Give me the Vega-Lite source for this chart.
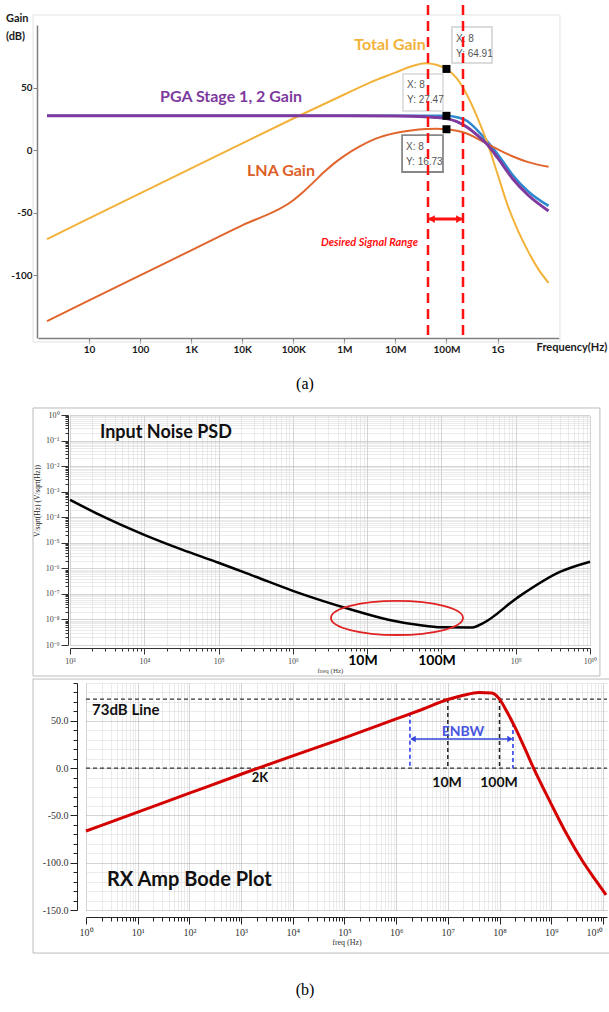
{
"$schema": "https://vega.github.io/schema/vega-lite/v6.json",
"width": 609, "height": 1012, "padding": 0,
"autosize": {"type": "none"},
"background": "white",
"config": {"view": {"stroke": null}, "text": {"font": "Lato"}},
"datasets": {
"total": [{"f":1.5,"g":-71},{"f":10,"g":-54.5},{"f":100,"g":-34.5},{"f":1000,"g":-14.5},{"f":1e4,"g":5.5},{"f":1e5,"g":25.3},{"f":1e6,"g":44.5},{"f":3.16e6,"g":54},{"f":1e7,"g":62},{"f":2e7,"g":66.8},{"f":3.8e7,"g":69.5},{"f":6.3e7,"g":68.3},{"f":1e8,"g":64.91},{"f":1.58e8,"g":57.5},{"f":2.5e8,"g":44.5},{"f":4e8,"g":26.5},{"f":6.3e8,"g":6},{"f":1e9,"g":-19},{"f":1.58e9,"g":-44},{"f":2.5e9,"g":-64},{"f":4e9,"g":-81},{"f":6.3e9,"g":-95},{"f":1e10,"g":-106}],
"pga": [{"f":1.5,"g":27.5},{"f":1e6,"g":27.5},{"f":1e7,"g":27.3},{"f":3e7,"g":26.9},{"f":6e7,"g":26.2},{"f":1e8,"g":25.2},{"f":1.6e8,"g":22.8},{"f":2.5e8,"g":18.5},{"f":4e8,"g":12},{"f":6.3e8,"g":4.5},{"f":1e9,"g":-6},{"f":2e9,"g":-23},{"f":4e9,"g":-36},{"f":1e10,"g":-48.5}],
"pga2": [{"f":1.5,"g":27.5},{"f":1e7,"g":27.5},{"f":4e7,"g":27.5},{"f":1e8,"g":27.47},{"f":1.6e8,"g":26.3},{"f":2.5e8,"g":23.5},{"f":4e8,"g":16},{"f":6.3e8,"g":7},{"f":1e9,"g":-3},{"f":2e9,"g":-20},{"f":4e9,"g":-33},{"f":1e10,"g":-44.5}],
"lna": [{"f":1.5,"g":-136.5},{"f":10,"g":-120},{"f":100,"g":-100},{"f":1000,"g":-80},{"f":1e4,"g":-60},{"f":1e5,"g":-40},{"f":1.6e5,"g":-33},{"f":2.5e5,"g":-25.5},{"f":4e5,"g":-17.5},{"f":6.3e5,"g":-10.5},{"f":1e6,"g":-4.5},{"f":2e6,"g":3},{"f":4e6,"g":9},{"f":1e7,"g":13.8},{"f":2e7,"g":15.8},{"f":4e7,"g":16.9},{"f":6.3e7,"g":17.1},{"f":1e8,"g":16.73},{"f":1.6e8,"g":15.6},{"f":2.5e8,"g":13.3},{"f":4e8,"g":9.3},{"f":6.3e8,"g":5},{"f":1e9,"g":0.8},{"f":2e9,"g":-5},{"f":4e9,"g":-9.5},{"f":1e10,"g":-13.3}],
"marks": [{"f":1e8,"g":64.91},{"f":1e8,"g":27.47},{"f":1e8,"g":16.73}],
"tiptext": [{"f":1.54e8,"g":88.8,"t":"X: 8"},{"f":1.54e8,"g":76.8,"t":"Y: 64.91"},{"f":1.69e7,"g":52.1,"t":"X: 8"},{"f":1.69e7,"g":40.1,"t":"Y: 27.47"},{"f":1.61e7,"g":2.6,"t":"X: 8"},{"f":1.61e7,"g":-9.4,"t":"Y: 16.73"}],
"psd": [{"f":1e3,"v":4.79e-4},{"f":2.51e3,"v":1.23e-4},{"f":1e4,"v":2.04e-5},{"f":3.16e4,"v":5.5e-6},{"f":1e5,"v":1.66e-6},{"f":3.16e5,"v":4.68e-7},{"f":1e6,"v":1.32e-7},{"f":5.9e6,"v":2.51e-8},{"f":2e7,"v":9.55e-9},{"f":5e7,"v":6.03e-9},{"f":1e8,"v":4.9e-9},{"f":2.5e8,"v":4.79e-9},{"f":3.6e8,"v":7.08e-9},{"f":1.05e9,"v":7.08e-8},{"f":4e9,"v":7.41e-7},{"f":1e10,"v":1.82e-6}],
"bode": [{"f":1,"g":-66.5},{"f":10,"g":-46.5},{"f":100,"g":-26.5},{"f":1e3,"g":-6.5},{"f":1e4,"g":13},{"f":1e5,"g":32},{"f":1e6,"g":52},{"f":3.16e6,"g":62},{"f":1e7,"g":72.5},{"f":2e7,"g":77},{"f":4e7,"g":80},{"f":7.1e7,"g":79.5},{"f":1e8,"g":73},{"f":1.41e8,"g":59},{"f":2e8,"g":43},{"f":3.16e8,"g":19.5},{"f":4.47e8,"g":1},{"f":1e9,"g":-38},{"f":2e9,"g":-70},{"f":4e9,"g":-98},{"f":7.1e9,"g":-118},{"f":1.15e10,"g":-134}]
},
"layer": [
{"data": {"name": "pga2"}, "mark": {"type": "line", "color": "#2E88CF", "strokeWidth": 2.5, "interpolate": "monotone"},
 "encoding": {
  "x": {"field": "f", "type": "quantitative", "scale": {"type":"log","domain":[1,1.6e10],"range":[38,559],"nice":false},
   "axis": {"orient":"bottom","offset":-674,"values":[10,100,1000,1e4,1e5,1e6,1e7,1e8,1e9],
    "labelExpr":"['1','10','100','1K','10K','100K','1M','10M','100M','1G','10G'][round(log(datum.value)/LN10)]",
    "title":null,"grid":false,"domainColor":"#808080","domainWidth":1.5,"tickColor":"#808080","tickWidth":1.2,"tickSize":5,
    "labelFont":"Lato","labelFontWeight":"bold","labelFontSize":10,"labelColor":"#1a1a1a","labelPadding":1,"labelOverlap":false,"labelFlush":false,"labelBound":false}},
  "y": {"field": "g", "type": "quantitative", "scale": {"type":"linear","domain":[-150,100],"range":[338,25],"nice":false,"zero":false},
   "axis": {"orient":"left","offset":-37,"values":[-100,-50,0,50],
    "labelExpr":"datum.value < 0 ? '-' + format(-datum.value, 'd') : format(datum.value, 'd')",
    "title":null,"grid":false,"domainColor":"#808080","domainWidth":1.5,"tickColor":"#808080","tickSize":4,
    "labelFont":"Lato","labelFontWeight":"bold","labelFontSize":10,"labelColor":"#1a1a1a","labelPadding":1,"labelOverlap":false,"labelFlush":false}}
 }},
{"data": {"values": [{}]}, "mark": {"type": "rect", "fill": "transparent", "stroke": "#e2e2e2", "strokeWidth": 1},
 "encoding": {"x": {"datum": 0.8, "type": "quantitative", "scale": {"type":"log","domain":[1,1.6e10],"range":[38,559],"nice":false}, "axis": null}, "x2": {"datum": 1.67e10}, "y": {"datum": 108, "type": "quantitative", "scale": {"type":"linear","domain":[-150,100],"range":[338,25],"nice":false,"zero":false}, "axis": null}, "y2": {"datum": -153.2}}},
{"data": {"name": "total"}, "mark": {"type": "line", "color": "#F2B23A", "strokeWidth": 2, "interpolate": "monotone"},
 "encoding": {"x": {"field": "f", "type": "quantitative", "scale": {"type":"log","domain":[1,1.6e10],"range":[38,559],"nice":false}, "axis": null}, "y": {"field": "g", "type": "quantitative", "scale": {"type":"linear","domain":[-150,100],"range":[338,25],"nice":false,"zero":false}, "axis": null}}},
{"data": {"name": "lna"}, "mark": {"type": "line", "color": "#E0662E", "strokeWidth": 2, "interpolate": "monotone"},
 "encoding": {"x": {"field": "f", "type": "quantitative", "scale": {"type":"log","domain":[1,1.6e10],"range":[38,559],"nice":false}, "axis": null}, "y": {"field": "g", "type": "quantitative", "scale": {"type":"linear","domain":[-150,100],"range":[338,25],"nice":false,"zero":false}, "axis": null}}},
{"data": {"name": "pga"}, "mark": {"type": "line", "color": "#7E3A9E", "strokeWidth": 3, "interpolate": "monotone"},
 "encoding": {"x": {"field": "f", "type": "quantitative", "scale": {"type":"log","domain":[1,1.6e10],"range":[38,559],"nice":false}, "axis": null}, "y": {"field": "g", "type": "quantitative", "scale": {"type":"linear","domain":[-150,100],"range":[338,25],"nice":false,"zero":false}, "axis": null}}},
{"data": {"name": "marks"}, "mark": {"type": "square", "size": 64, "color": "black", "opacity": 1},
 "encoding": {"x": {"field": "f", "type": "quantitative", "scale": {"type":"log","domain":[1,1.6e10],"range":[38,559],"nice":false}, "axis": null}, "y": {"field": "g", "type": "quantitative", "scale": {"type":"linear","domain":[-150,100],"range":[338,25],"nice":false,"zero":false}, "axis": null}}},
{"data": {"values": [{}]}, "mark": {"type": "rect", "fill": "white", "stroke": "#cfcfcf", "strokeWidth": 1.5},
 "encoding": {"x": {"datum": 1.28e8, "type": "quantitative", "scale": {"type":"log","domain":[1,1.6e10],"range":[38,559],"nice":false}, "axis": null}, "x2": {"datum": 7.79e8}, "y": {"datum": 98.4, "type": "quantitative", "scale": {"type":"linear","domain":[-150,100],"range":[338,25],"nice":false,"zero":false}, "axis": null}, "y2": {"datum": 69.6}}},
{"data": {"values": [{}]}, "mark": {"type": "rect", "fill": "white", "stroke": "#d8d8d8", "strokeWidth": 1.5},
 "encoding": {"x": {"datum": 1.41e7, "type": "quantitative", "scale": {"type":"log","domain":[1,1.6e10],"range":[38,559],"nice":false}, "axis": null}, "x2": {"datum": 8.55e7}, "y": {"datum": 60.9, "type": "quantitative", "scale": {"type":"linear","domain":[-150,100],"range":[338,25],"nice":false,"zero":false}, "axis": null}, "y2": {"datum": 31.3}}},
{"data": {"values": [{}]}, "mark": {"type": "rect", "fill": "white", "stroke": "#888888", "strokeWidth": 1.8},
 "encoding": {"x": {"datum": 1.35e7, "type": "quantitative", "scale": {"type":"log","domain":[1,1.6e10],"range":[38,559],"nice":false}, "axis": null}, "x2": {"datum": 8.55e7}, "y": {"datum": 12.1, "type": "quantitative", "scale": {"type":"linear","domain":[-150,100],"range":[338,25],"nice":false,"zero":false}, "axis": null}, "y2": {"datum": -17.4}}},
{"data": {"name": "tiptext"}, "mark": {"type": "text", "align": "left", "baseline": "middle", "font": "Liberation Sans", "fontSize": 10, "color": "#555555"},
 "encoding": {"x": {"field": "f", "type": "quantitative", "scale": {"type":"log","domain":[1,1.6e10],"range":[38,559],"nice":false}, "axis": null}, "y": {"field": "g", "type": "quantitative", "scale": {"type":"linear","domain":[-150,100],"range":[338,25],"nice":false,"zero":false}, "axis": null}, "text": {"field": "t"}}},
{"data": {"values": [{}]}, "mark": {"type": "rule", "color": "#FF1111", "strokeWidth": 2.5, "strokeDash": [10, 6]},
 "encoding": {"x": {"datum": 4.35e7, "type": "quantitative", "scale": {"type":"log","domain":[1,1.6e10],"range":[38,559],"nice":false}, "axis": null}, "y": {"datum": 116, "type": "quantitative", "scale": {"type":"linear","domain":[-150,100],"range":[338,25],"nice":false,"zero":false}, "axis": null}, "y2": {"datum": -150}}},
{"data": {"values": [{}]}, "mark": {"type": "rule", "color": "#FF1111", "strokeWidth": 2.5, "strokeDash": [10, 6]},
 "encoding": {"x": {"datum": 2.11e8, "type": "quantitative", "scale": {"type":"log","domain":[1,1.6e10],"range":[38,559],"nice":false}, "axis": null}, "y": {"datum": 116, "type": "quantitative", "scale": {"type":"linear","domain":[-150,100],"range":[338,25],"nice":false,"zero":false}, "axis": null}, "y2": {"datum": -150}}},
{"data": {"values": [{}]}, "mark": {"type": "rule", "color": "#FF1111", "strokeWidth": 3},
 "encoding": {"x": {"datum": 4.6e7, "type": "quantitative", "scale": {"type":"log","domain":[1,1.6e10],"range":[38,559],"nice":false}, "axis": null}, "x2": {"datum": 2.0e8}, "y": {"datum": -55, "type": "quantitative", "scale": {"type":"linear","domain":[-150,100],"range":[338,25],"nice":false,"zero":false}, "axis": null}}},
{"data": {"values": [{}]}, "mark": {"type": "point", "shape": "triangle-left", "filled": true, "size": 60, "color": "#FF1111", "opacity": 1},
 "encoding": {"x": {"datum": 5.09e7, "type": "quantitative", "scale": {"type":"log","domain":[1,1.6e10],"range":[38,559],"nice":false}, "axis": null}, "y": {"datum": -55, "type": "quantitative", "scale": {"type":"linear","domain":[-150,100],"range":[338,25],"nice":false,"zero":false}, "axis": null}}},
{"data": {"values": [{}]}, "mark": {"type": "point", "shape": "triangle-right", "filled": true, "size": 60, "color": "#FF1111", "opacity": 1},
 "encoding": {"x": {"datum": 1.8e8, "type": "quantitative", "scale": {"type":"log","domain":[1,1.6e10],"range":[38,559],"nice":false}, "axis": null}, "y": {"datum": -55, "type": "quantitative", "scale": {"type":"linear","domain":[-150,100],"range":[338,25],"nice":false,"zero":false}, "axis": null}}},
{"data": {"values": [{}]}, "mark": {"type": "text", "text": "Desired Signal Range", "align": "right", "baseline": "middle", "fontSize": 11, "fontWeight": "bold", "fontStyle": "italic", "color": "#FF1111"},
 "encoding": {"x": {"datum": 2.77e7, "type": "quantitative", "scale": {"type":"log","domain":[1,1.6e10],"range":[38,559],"nice":false}, "axis": null}, "y": {"datum": -74.1, "type": "quantitative", "scale": {"type":"linear","domain":[-150,100],"range":[338,25],"nice":false,"zero":false}, "axis": null}}},
{"data": {"values": [{}]}, "mark": {"type": "text", "text": "Total Gain", "align": "center", "baseline": "middle", "fontSize": 16, "fontWeight": "bold", "color": "#F2B23A"},
 "encoding": {"x": {"datum": 7.83e6, "type": "quantitative", "scale": {"type":"log","domain":[1,1.6e10],"range":[38,559],"nice":false}, "axis": null}, "y": {"datum": 84, "type": "quantitative", "scale": {"type":"linear","domain":[-150,100],"range":[338,25],"nice":false,"zero":false}, "axis": null}}},
{"data": {"values": [{}]}, "mark": {"type": "text", "text": "PGA Stage 1, 2 Gain", "align": "center", "baseline": "middle", "fontSize": 16, "fontWeight": "bold", "color": "#7E3A9E"},
 "encoding": {"x": {"datum": 6030, "type": "quantitative", "scale": {"type":"log","domain":[1,1.6e10],"range":[38,559],"nice":false}, "axis": null}, "y": {"datum": 42.5, "type": "quantitative", "scale": {"type":"linear","domain":[-150,100],"range":[338,25],"nice":false,"zero":false}, "axis": null}}},
{"data": {"values": [{}]}, "mark": {"type": "text", "text": "LNA Gain", "align": "center", "baseline": "middle", "fontSize": 16, "fontWeight": "bold", "color": "#DD5F28"},
 "encoding": {"x": {"datum": 57400, "type": "quantitative", "scale": {"type":"log","domain":[1,1.6e10],"range":[38,559],"nice":false}, "axis": null}, "y": {"datum": -16.6, "type": "quantitative", "scale": {"type":"linear","domain":[-150,100],"range":[338,25],"nice":false,"zero":false}, "axis": null}}},
{"data": {"values": [{}]}, "mark": {"type": "text", "text": "Gain", "align": "left", "baseline": "middle", "fontSize": 11, "fontWeight": "bold", "color": "#1a1a1a"},
 "encoding": {"x": {"datum": 0.236, "type": "quantitative", "scale": {"type":"log","domain":[1,1.6e10],"range":[38,559],"nice":false}, "axis": null}, "y": {"datum": 104.8, "type": "quantitative", "scale": {"type":"linear","domain":[-150,100],"range":[338,25],"nice":false,"zero":false}, "axis": null}}},
{"data": {"values": [{}]}, "mark": {"type": "text", "text": "(dB)", "align": "left", "baseline": "middle", "fontSize": 11, "fontWeight": "bold", "color": "#1a1a1a"},
 "encoding": {"x": {"datum": 0.236, "type": "quantitative", "scale": {"type":"log","domain":[1,1.6e10],"range":[38,559],"nice":false}, "axis": null}, "y": {"datum": 90.4, "type": "quantitative", "scale": {"type":"linear","domain":[-150,100],"range":[338,25],"nice":false,"zero":false}, "axis": null}}},
{"data": {"values": [{}]}, "mark": {"type": "text", "text": "Frequency(Hz)", "align": "center", "baseline": "middle", "fontSize": 11, "fontWeight": "bold", "color": "#1a1a1a"},
 "encoding": {"x": {"datum": 2.87e10, "type": "quantitative", "scale": {"type":"log","domain":[1,1.6e10],"range":[38,559],"nice":false}, "axis": null}, "y": {"datum": -158, "type": "quantitative", "scale": {"type":"linear","domain":[-150,100],"range":[338,25],"nice":false,"zero":false}, "axis": null}}},
{"data": {"values": [{}]}, "mark": {"type": "text", "text": "(a)", "align": "center", "baseline": "middle", "font": "Liberation Serif", "fontSize": 16, "color": "#000000"},
 "encoding": {"x": {"datum": 1.69e5, "type": "quantitative", "scale": {"type":"log","domain":[1,1.6e10],"range":[38,559],"nice":false}, "axis": null}, "y": {"datum": -186.7, "type": "quantitative", "scale": {"type":"linear","domain":[-150,100],"range":[338,25],"nice":false,"zero":false}, "axis": null}}},

{"data": {"values": [{}]}, "mark": {"type": "rect", "fill": "transparent", "stroke": "#bcbcbc", "strokeWidth": 1},
 "encoding": {
  "x": {"datum": 317.7, "type": "quantitative", "scale": {"type":"log","domain":[1000,1e10],"range":[70,590],"nice":false},
   "axis": {"orient":"top","offset":0,"title":null,"domain":false,"ticks":false,"labels":false,
    "values":[1e3,2e3,3e3,4e3,5e3,6e3,7e3,8e3,9e3,1e4,2e4,3e4,4e4,5e4,6e4,7e4,8e4,9e4,1e5,2e5,3e5,4e5,5e5,6e5,7e5,8e5,9e5,1e6,2e6,3e6,4e6,5e6,6e6,7e6,8e6,9e6,1e7,2e7,3e7,4e7,5e7,6e7,7e7,8e7,9e7,1e8,2e8,3e8,4e8,5e8,6e8,7e8,8e8,9e8,1e9,2e9,3e9,4e9,5e9,6e9,7e9,8e9,9e9,1e10],
    "grid":true,"gridDash":[1,1],"gridWidth":1,
    "gridColor":{"condition":{"test":"abs(log(datum.value)/LN10 - round(log(datum.value)/LN10)) < 0.001","value":"#a8a8a8"},"value":"#d6d6d6"}}},
  "x2": {"datum": 1.36e10},
  "y": {"datum": 1.879, "type": "quantitative", "scale": {"type":"log","domain":[1e-9,1],"range":[645,415],"nice":false}, "axis": null},
  "y2": {"datum": 6.12e-11}}},
{"data": {"name": "psd"}, "mark": {"type": "line", "color": "#000000", "strokeWidth": 2.5, "interpolate": "monotone"},
 "encoding": {
  "x": {"field": "f", "type": "quantitative", "scale": {"type":"log","domain":[1000,1e10],"range":[70,590],"nice":false},
   "axis": {"orient":"bottom","offset":-364,
    "values":[1e3,2e3,3e3,4e3,5e3,6e3,7e3,8e3,9e3,1e4,2e4,3e4,4e4,5e4,6e4,7e4,8e4,9e4,1e5,2e5,3e5,4e5,5e5,6e5,7e5,8e5,9e5,1e6,2e6,3e6,4e6,5e6,6e6,7e6,8e6,9e6,1e7,2e7,3e7,4e7,5e7,6e7,7e7,8e7,9e7,1e8,2e8,3e8,4e8,5e8,6e8,7e8,8e8,9e8,1e9,2e9,3e9,4e9,5e9,6e9,7e9,8e9,9e9,1e10],
    "labelExpr":"abs(log(datum.value)/LN10 - round(log(datum.value)/LN10)) < 0.001 ? ['10⁰','10¹','10²','10³','10⁴','10⁵','10⁶','','','10⁹','10¹⁰'][round(log(datum.value)/LN10)] : ''",
    "title":"freq (Hz)","titleFont":"Liberation Serif","titleFontSize":7,"titleFontWeight":"normal","titleColor":"#444444","titlePadding":1,
    "grid":false,
    "tickSize":{"condition":{"test":"abs(log(datum.value)/LN10 - round(log(datum.value)/LN10)) < 0.001","value":6},"value":3},
    "tickColor":"#333333","domainColor":"#333333",
    "labelFont":"Liberation Serif","labelFontSize":8,"labelColor":"#444444","labelPadding":3,"labelOverlap":false,"labelFlush":false,"labelBound":false}},
  "y": {"field": "v", "type": "quantitative", "scale": {"type":"log","domain":[1e-9,1],"range":[645,415],"nice":false},
   "axis": {"orient":"left","offset":-68,
    "values":[1e-9,2e-9,3e-9,4e-9,5e-9,6e-9,7e-9,8e-9,9e-9,1e-8,2e-8,3e-8,4e-8,5e-8,6e-8,7e-8,8e-8,9e-8,1e-7,2e-7,3e-7,4e-7,5e-7,6e-7,7e-7,8e-7,9e-7,1e-6,2e-6,3e-6,4e-6,5e-6,6e-6,7e-6,8e-6,9e-6,1e-5,2e-5,3e-5,4e-5,5e-5,6e-5,7e-5,8e-5,9e-5,1e-4,2e-4,3e-4,4e-4,5e-4,6e-4,7e-4,8e-4,9e-4,1e-3,2e-3,3e-3,4e-3,5e-3,6e-3,7e-3,8e-3,9e-3,1e-2,2e-2,3e-2,4e-2,5e-2,6e-2,7e-2,8e-2,9e-2,1e-1,2e-1,3e-1,4e-1,5e-1,6e-1,7e-1,8e-1,9e-1,1],
    "labelExpr":"abs(log(datum.value)/LN10 - round(log(datum.value)/LN10)) < 0.001 ? ['10⁰','10⁻¹','10⁻²','10⁻³','10⁻⁴','10⁻⁵','10⁻⁶','10⁻⁷','10⁻⁸','10⁻⁹'][-round(log(datum.value)/LN10)] : ''",
    "title":null,
    "grid":true,"gridDash":[1,1],"gridWidth":1,
    "gridColor":{"condition":{"test":"abs(log(datum.value)/LN10 - round(log(datum.value)/LN10)) < 0.001","value":"#a8a8a8"},"value":"#d6d6d6"},
    "tickSize":{"condition":{"test":"abs(log(datum.value)/LN10 - round(log(datum.value)/LN10)) < 0.001","value":7},"value":3},
    "tickColor":"#333333","domainColor":"#333333",
    "labelFont":"Liberation Serif","labelFontSize":8,"labelColor":"#444444","labelPadding":2,"labelOverlap":false,"labelFlush":false,"labelBound":false}}
 }},
{"data": {"values": [{}]}, "mark": {"type": "point", "shape": "M -1 0 C -1 -0.1425 -0.5523 -0.258 0 -0.258 C 0.5523 -0.258 1 -0.1425 1 0 C 1 0.1425 0.5523 0.258 0 0.258 C -0.5523 0.258 -1 0.1425 -1 0 Z", "size": 17424, "filled": false, "stroke": "#E02424", "strokeWidth": 1.8, "opacity": 1},
 "encoding": {"x": {"datum": 2.52e7, "type": "quantitative", "scale": {"type":"log","domain":[1000,1e10],"range":[70,590],"nice":false}, "axis": null}, "y": {"datum": 1.14e-8, "type": "quantitative", "scale": {"type":"log","domain":[1e-9,1],"range":[645,415],"nice":false}, "axis": null}}},
{"data": {"values": [{}]}, "mark": {"type": "text", "text": "Input Noise PSD", "align": "left", "baseline": "middle", "fontSize": 18, "fontWeight": "bold", "color": "#111111"},
 "encoding": {"x": {"datum": 2535, "type": "quantitative", "scale": {"type":"log","domain":[1000,1e10],"range":[70,590],"nice":false}, "axis": null}, "y": {"datum": 0.1977, "type": "quantitative", "scale": {"type":"log","domain":[1e-9,1],"range":[645,415],"nice":false}, "axis": null}}},
{"data": {"values": [{}]}, "mark": {"type": "text", "text": "10M", "align": "center", "baseline": "middle", "fontSize": 14, "fontWeight": "bold", "color": "#000000"},
 "encoding": {"x": {"datum": 8.79e6, "type": "quantitative", "scale": {"type":"log","domain":[1000,1e10],"range":[70,590],"nice":false}, "axis": null}, "y": {"datum": 2.37e-10, "type": "quantitative", "scale": {"type":"log","domain":[1e-9,1],"range":[645,415],"nice":false}, "axis": null}}},
{"data": {"values": [{}]}, "mark": {"type": "text", "text": "100M", "align": "center", "baseline": "middle", "fontSize": 14, "fontWeight": "bold", "color": "#000000"},
 "encoding": {"x": {"datum": 8.71e7, "type": "quantitative", "scale": {"type":"log","domain":[1000,1e10],"range":[70,590],"nice":false}, "axis": null}, "y": {"datum": 2.37e-10, "type": "quantitative", "scale": {"type":"log","domain":[1e-9,1],"range":[645,415],"nice":false}, "axis": null}}},
{"data": {"values": [{}]}, "mark": {"type": "text", "text": "V/sqrt(Hz) (V/sqrt(Hz))", "angle": 270, "align": "center", "baseline": "middle", "font": "Liberation Serif", "fontSize": 7.5, "color": "#222222"},
 "encoding": {"x": {"datum": 370.7, "type": "quantitative", "scale": {"type":"log","domain":[1000,1e10],"range":[70,590],"nice":false}, "axis": null}, "y": {"datum": 4.31e-4, "type": "quantitative", "scale": {"type":"log","domain":[1e-9,1],"range":[645,415],"nice":false}, "axis": null}}},

{"data": {"values": [{}]}, "mark": {"type": "rect", "fill": "transparent", "stroke": "#bcbcbc", "strokeWidth": 1},
 "encoding": {
  "x": {"datum": 0.0944, "type": "quantitative", "scale": {"type":"log","domain":[1,1.2e10],"range":[86,607],"nice":false},
   "axis": {"orient":"top","offset":0,"title":null,"domain":false,"ticks":false,"labels":false,
    "values":[1,2,3,4,5,6,7,8,9,10,20,30,40,50,60,70,80,90,100,200,300,400,500,600,700,800,900,1e3,2e3,3e3,4e3,5e3,6e3,7e3,8e3,9e3,1e4,2e4,3e4,4e4,5e4,6e4,7e4,8e4,9e4,1e5,2e5,3e5,4e5,5e5,6e5,7e5,8e5,9e5,1e6,2e6,3e6,4e6,5e6,6e6,7e6,8e6,9e6,1e7,2e7,3e7,4e7,5e7,6e7,7e7,8e7,9e7,1e8,2e8,3e8,4e8,5e8,6e8,7e8,8e8,9e8,1e9,2e9,3e9,4e9,5e9,6e9,7e9,8e9,9e9,1e10],
    "grid":true,"gridDash":[1,1],"gridWidth":1,
    "gridColor":{"condition":{"test":"abs(log(datum.value)/LN10 - round(log(datum.value)/LN10)) < 0.001","value":"#a8a8a8"},"value":"#d6d6d6"}}},
  "x2": {"datum": 1.5e10},
  "y": {"datum": 94.2, "type": "quantitative", "scale": {"type":"linear","domain":[-150,90],"range":[910,683],"nice":false,"zero":false}, "axis": null},
  "y2": {"datum": -195.5}}},
{"data": {"name": "bode"}, "mark": {"type": "line", "color": "#D40000", "strokeWidth": 3, "interpolate": "monotone", "opacity": 0},
 "encoding": {
  "x": {"field": "f", "type": "quantitative", "scale": {"type":"log","domain":[1,1.2e10],"range":[86,607],"nice":false},
   "axis": {"orient":"bottom","offset":-95,
    "values":[1,2,3,4,5,6,7,8,9,10,20,30,40,50,60,70,80,90,100,200,300,400,500,600,700,800,900,1e3,2e3,3e3,4e3,5e3,6e3,7e3,8e3,9e3,1e4,2e4,3e4,4e4,5e4,6e4,7e4,8e4,9e4,1e5,2e5,3e5,4e5,5e5,6e5,7e5,8e5,9e5,1e6,2e6,3e6,4e6,5e6,6e6,7e6,8e6,9e6,1e7,2e7,3e7,4e7,5e7,6e7,7e7,8e7,9e7,1e8,2e8,3e8,4e8,5e8,6e8,7e8,8e8,9e8,1e9,2e9,3e9,4e9,5e9,6e9,7e9,8e9,9e9,1e10],
    "labelExpr":"abs(log(datum.value)/LN10 - round(log(datum.value)/LN10)) < 0.001 ? ['10⁰','10¹','10²','10³','10⁴','10⁵','10⁶','10⁷','10⁸','10⁹','10¹⁰'][round(log(datum.value)/LN10)] : ''",
    "labelAlign":{"condition":{"test":"datum.value > 5e9","value":"right"},"value":"center"},
    "title":"freq (Hz)","titleFont":"Liberation Serif","titleFontSize":8,"titleFontWeight":"normal","titleColor":"#333333","titlePadding":1,
    "grid":false,
    "tickSize":{"condition":{"test":"abs(log(datum.value)/LN10 - round(log(datum.value)/LN10)) < 0.001","value":7},"value":4},
    "tickColor":"#222222","domainColor":"#222222",
    "labelFont":"Liberation Serif","labelFontSize":10,"labelColor":"#333333","labelPadding":3,"labelOverlap":false,"labelFlush":false,"labelBound":false}},
  "y": {"field": "g", "type": "quantitative", "scale": {"type":"linear","domain":[-150,90],"range":[910,683],"nice":false,"zero":false},
   "axis": {"orient":"left","offset":-77,
    "values":[-150,-140,-130,-120,-110,-100,-90,-80,-70,-60,-50,-40,-30,-20,-10,0,10,20,30,40,50,60,70,80,90],
    "labelExpr":"datum.value % 50 == 0 ? (datum.value < 0 ? '-' + format(-datum.value, '.1f') : format(datum.value, '.1f')) : ''",
    "title":null,
    "grid":true,"gridDash":[1,1],"gridWidth":1,
    "gridColor":{"condition":{"test":"datum.value % 50 == 0","value":"#a8a8a8"},"value":"#d6d6d6"},
    "tickSize":{"condition":{"test":"datum.value % 50 == 0","value":7},"value":4},
    "tickColor":"#222222","domainColor":"#222222",
    "labelFont":"Liberation Serif","labelFontSize":10,"labelColor":"#333333","labelPadding":2,"labelOverlap":false,"labelFlush":false,"labelBound":false}}
 }},
{"data": {"values": [{}]}, "mark": {"type": "rule", "color": "#333333", "strokeWidth": 1.2, "strokeDash": [4, 3]},
 "encoding": {"x": {"datum": 1, "type": "quantitative", "scale": {"type":"log","domain":[1,1.2e10],"range":[86,607],"nice":false}, "axis": null}, "x2": {"datum": 1.2e10}, "y": {"datum": 73, "type": "quantitative", "scale": {"type":"linear","domain":[-150,90],"range":[910,683],"nice":false,"zero":false}, "axis": null}}},
{"data": {"values": [{}]}, "mark": {"type": "rule", "color": "#333333", "strokeWidth": 1.2, "strokeDash": [4, 3]},
 "encoding": {"x": {"datum": 1, "type": "quantitative", "scale": {"type":"log","domain":[1,1.2e10],"range":[86,607],"nice":false}, "axis": null}, "x2": {"datum": 1.2e10}, "y": {"datum": 0, "type": "quantitative", "scale": {"type":"linear","domain":[-150,90],"range":[910,683],"nice":false,"zero":false}, "axis": null}}},
{"data": {"values": [{}]}, "mark": {"type": "rule", "color": "#222222", "strokeWidth": 1.5, "strokeDash": [4, 3]},
 "encoding": {"x": {"datum": 1e7, "type": "quantitative", "scale": {"type":"log","domain":[1,1.2e10],"range":[86,607],"nice":false}, "axis": null}, "y": {"datum": 73, "type": "quantitative", "scale": {"type":"linear","domain":[-150,90],"range":[910,683],"nice":false,"zero":false}, "axis": null}, "y2": {"datum": 0}}},
{"data": {"values": [{}]}, "mark": {"type": "rule", "color": "#222222", "strokeWidth": 1.5, "strokeDash": [4, 3]},
 "encoding": {"x": {"datum": 1e8, "type": "quantitative", "scale": {"type":"log","domain":[1,1.2e10],"range":[86,607],"nice":false}, "axis": null}, "y": {"datum": 73, "type": "quantitative", "scale": {"type":"linear","domain":[-150,90],"range":[910,683],"nice":false,"zero":false}, "axis": null}, "y2": {"datum": 0}}},
{"data": {"values": [{}]}, "mark": {"type": "rule", "color": "#2233EE", "strokeWidth": 1.5, "strokeDash": [4, 3]},
 "encoding": {"x": {"datum": 1.85e6, "type": "quantitative", "scale": {"type":"log","domain":[1,1.2e10],"range":[86,607],"nice":false}, "axis": null}, "y": {"datum": 58.5, "type": "quantitative", "scale": {"type":"linear","domain":[-150,90],"range":[910,683],"nice":false,"zero":false}, "axis": null}, "y2": {"datum": 0}}},
{"data": {"values": [{}]}, "mark": {"type": "rule", "color": "#2233EE", "strokeWidth": 1.5, "strokeDash": [4, 3]},
 "encoding": {"x": {"datum": 1.82e8, "type": "quantitative", "scale": {"type":"log","domain":[1,1.2e10],"range":[86,607],"nice":false}, "axis": null}, "y": {"datum": 47.6, "type": "quantitative", "scale": {"type":"linear","domain":[-150,90],"range":[910,683],"nice":false,"zero":false}, "axis": null}, "y2": {"datum": 0}}},
{"data": {"values": [{}]}, "mark": {"type": "rule", "color": "#3344DD", "strokeWidth": 1.5},
 "encoding": {"x": {"datum": 2.0e6, "type": "quantitative", "scale": {"type":"log","domain":[1,1.2e10],"range":[86,607],"nice":false}, "axis": null}, "x2": {"datum": 1.68e8}, "y": {"datum": 30.8, "type": "quantitative", "scale": {"type":"linear","domain":[-150,90],"range":[910,683],"nice":false,"zero":false}, "axis": null}}},
{"data": {"values": [{}]}, "mark": {"type": "point", "shape": "triangle-left", "filled": true, "size": 40, "color": "#3344DD", "opacity": 1},
 "encoding": {"x": {"datum": 2.12e6, "type": "quantitative", "scale": {"type":"log","domain":[1,1.2e10],"range":[86,607],"nice":false}, "axis": null}, "y": {"datum": 30.8, "type": "quantitative", "scale": {"type":"linear","domain":[-150,90],"range":[910,683],"nice":false,"zero":false}, "axis": null}}},
{"data": {"values": [{}]}, "mark": {"type": "point", "shape": "triangle-right", "filled": true, "size": 40, "color": "#3344DD", "opacity": 1},
 "encoding": {"x": {"datum": 1.6e8, "type": "quantitative", "scale": {"type":"log","domain":[1,1.2e10],"range":[86,607],"nice":false}, "axis": null}, "y": {"datum": 30.8, "type": "quantitative", "scale": {"type":"linear","domain":[-150,90],"range":[910,683],"nice":false,"zero":false}, "axis": null}}},
{"data": {"name": "bode"}, "mark": {"type": "line", "color": "#D40000", "strokeWidth": 3, "interpolate": "monotone"},
 "encoding": {"x": {"field": "f", "type": "quantitative", "scale": {"type":"log","domain":[1,1.2e10],"range":[86,607],"nice":false}, "axis": null}, "y": {"field": "g", "type": "quantitative", "scale": {"type":"linear","domain":[-150,90],"range":[910,683],"nice":false,"zero":false}, "axis": null}}},
{"data": {"values": [{}]}, "mark": {"type": "text", "text": "73dB Line", "align": "left", "baseline": "middle", "fontSize": 15, "fontWeight": "bold", "color": "#111111"},
 "encoding": {"x": {"datum": 1.31, "type": "quantitative", "scale": {"type":"log","domain":[1,1.2e10],"range":[86,607],"nice":false}, "axis": null}, "y": {"datum": 61.5, "type": "quantitative", "scale": {"type":"linear","domain":[-150,90],"range":[910,683],"nice":false,"zero":false}, "axis": null}}},
{"data": {"values": [{}]}, "mark": {"type": "text", "text": "2K", "align": "center", "baseline": "middle", "fontSize": 13, "fontWeight": "bold", "color": "#111111"},
 "encoding": {"x": {"datum": 2323, "type": "quantitative", "scale": {"type":"log","domain":[1,1.2e10],"range":[86,607],"nice":false}, "axis": null}, "y": {"datum": -10.4, "type": "quantitative", "scale": {"type":"linear","domain":[-150,90],"range":[910,683],"nice":false,"zero":false}, "axis": null}}},
{"data": {"values": [{}]}, "mark": {"type": "text", "text": "10M", "align": "center", "baseline": "middle", "fontSize": 14, "fontWeight": "bold", "color": "#111111"},
 "encoding": {"x": {"datum": 9.64e6, "type": "quantitative", "scale": {"type":"log","domain":[1,1.2e10],"range":[86,607],"nice":false}, "axis": null}, "y": {"datum": -15.7, "type": "quantitative", "scale": {"type":"linear","domain":[-150,90],"range":[910,683],"nice":false,"zero":false}, "axis": null}}},
{"data": {"values": [{}]}, "mark": {"type": "text", "text": "100M", "align": "center", "baseline": "middle", "fontSize": 14, "fontWeight": "bold", "color": "#111111"},
 "encoding": {"x": {"datum": 9.77e7, "type": "quantitative", "scale": {"type":"log","domain":[1,1.2e10],"range":[86,607],"nice":false}, "axis": null}, "y": {"datum": -15.7, "type": "quantitative", "scale": {"type":"linear","domain":[-150,90],"range":[910,683],"nice":false,"zero":false}, "axis": null}}},
{"data": {"values": [{}]}, "mark": {"type": "text", "text": "ENBW", "align": "center", "baseline": "middle", "fontSize": 14, "fontWeight": "bold", "color": "#4A55E0"},
 "encoding": {"x": {"datum": 1.96e7, "type": "quantitative", "scale": {"type":"log","domain":[1,1.2e10],"range":[86,607],"nice":false}, "axis": null}, "y": {"datum": 38.2, "type": "quantitative", "scale": {"type":"linear","domain":[-150,90],"range":[910,683],"nice":false,"zero":false}, "axis": null}}},
{"data": {"values": [{}]}, "mark": {"type": "text", "text": "RX Amp Bode Plot", "align": "left", "baseline": "middle", "fontSize": 20, "fontWeight": "bold", "color": "#111111"},
 "encoding": {"x": {"datum": 2.55, "type": "quantitative", "scale": {"type":"log","domain":[1,1.2e10],"range":[86,607],"nice":false}, "axis": null}, "y": {"datum": -118.3, "type": "quantitative", "scale": {"type":"linear","domain":[-150,90],"range":[910,683],"nice":false,"zero":false}, "axis": null}}},
{"data": {"values": [{}]}, "mark": {"type": "text", "text": "(b)", "align": "center", "baseline": "middle", "font": "Liberation Serif", "fontSize": 16, "color": "#000000"},
 "encoding": {"x": {"datum": 1.73e4, "type": "quantitative", "scale": {"type":"log","domain":[1,1.2e10],"range":[86,607],"nice":false}, "axis": null}, "y": {"datum": -234.6, "type": "quantitative", "scale": {"type":"linear","domain":[-150,90],"range":[910,683],"nice":false,"zero":false}, "axis": null}}}
],
"resolve": {"scale": {"x": "independent", "y": "independent"}, "axis": {"x": "independent", "y": "independent"}}
}
